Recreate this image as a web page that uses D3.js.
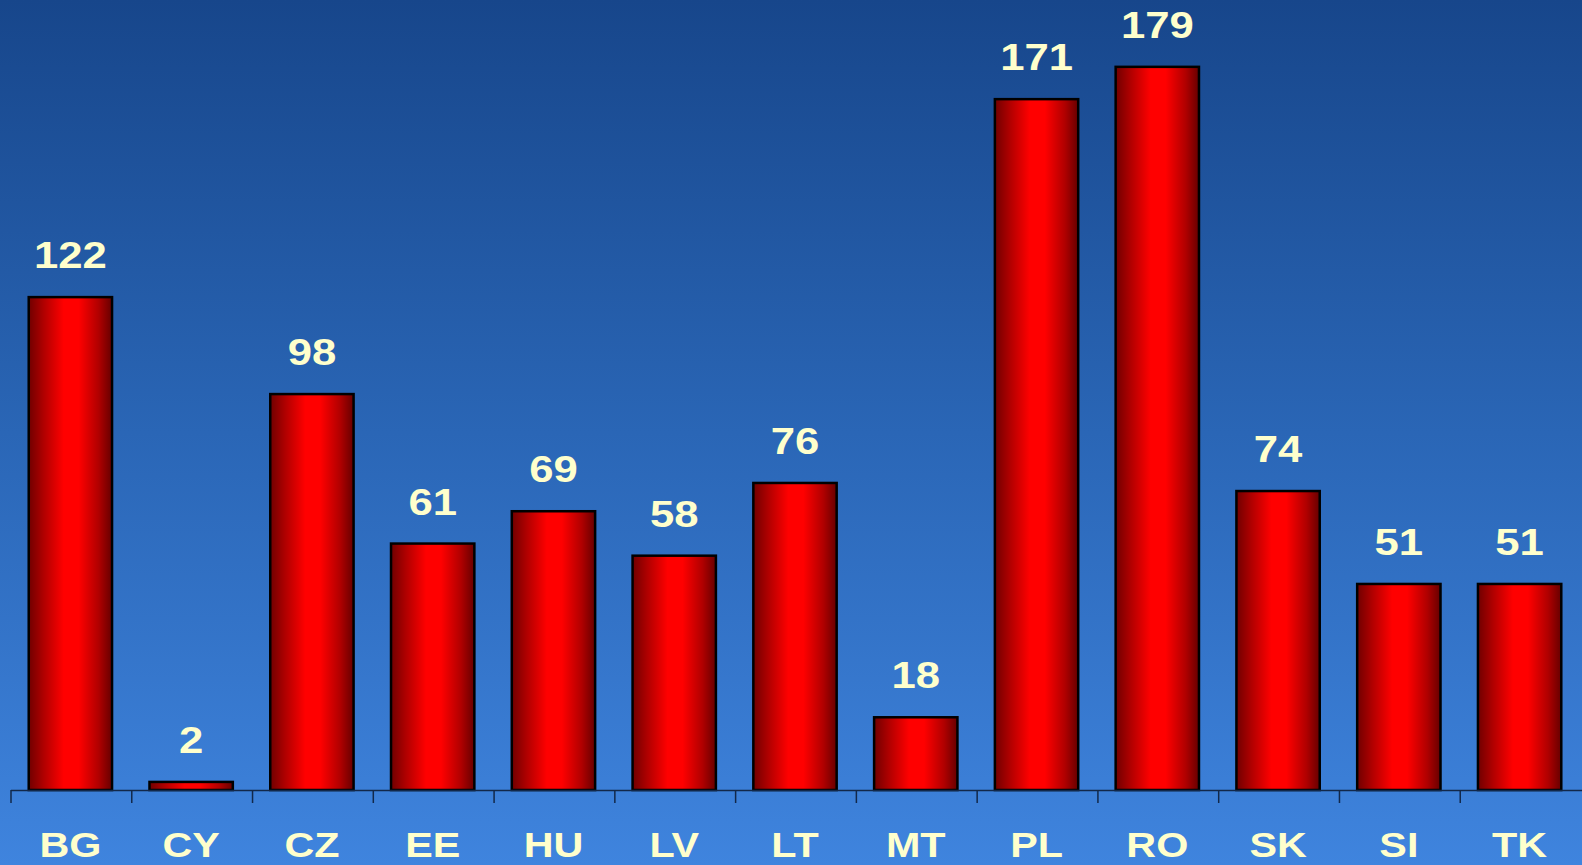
<!DOCTYPE html>
<html>
<head>
<meta charset="utf-8">
<script src="https://cdn.jsdelivr.net/npm/d3@7"></script>
<style>
  html, body { margin: 0; padding: 0; overflow: hidden; }
  svg { display: block; }
</style>
</head>
<body>
<div id="chart"></div>
<script>
// chart values
var countries = ["BG", "CY", "CZ", "EE", "HU", "LV", "LT", "MT", "PL", "RO", "SK", "SI", "TK"];
var values = [122, 2, 98, 61, 69, 58, 76, 18, 171, 179, 74, 51, 51];

var W = 1582, H = 865;
var baseY = 790;

var svg = d3.select("#chart")
  .append("svg")
  .attr("width", W)
  .attr("height", H);

var defs = svg.append("defs");

// background gradient, dark blue at top to lighter blue at bottom
var bg = defs.append("linearGradient")
  .attr("id", "bg")
  .attr("x1", 0).attr("y1", 0).attr("x2", 0).attr("y2", 1);
bg.append("stop").attr("offset", "0%").attr("stop-color", "#17468b");
bg.append("stop").attr("offset", "50%").attr("stop-color", "#2a66b6");
bg.append("stop").attr("offset", "100%").attr("stop-color", "#3f84de");

// red cylinder look for the bars
var barGrad = defs.append("linearGradient")
  .attr("id", "barGrad")
  .attr("x1", 0).attr("y1", 0).attr("x2", 1).attr("y2", 0);
barGrad.append("stop").attr("offset", "0%").attr("stop-color", "#700000");
barGrad.append("stop").attr("offset", "18%").attr("stop-color", "#b00000");
barGrad.append("stop").attr("offset", "42%").attr("stop-color", "#ff0000");
barGrad.append("stop").attr("offset", "60%").attr("stop-color", "#ff0000");
barGrad.append("stop").attr("offset", "84%").attr("stop-color", "#b00000");
barGrad.append("stop").attr("offset", "100%").attr("stop-color", "#660000");

svg.append("rect")
  .attr("width", W)
  .attr("height", H)
  .attr("fill", "url(#bg)");

// scales
var x = d3.scaleBand()
  .domain(countries)
  .range([11, 1581])
  .paddingInner(0.31)
  .paddingOuter(0.155);

var y = d3.scaleLinear()
  .domain([0, 200])
  .range([baseY, -18]);

// bars
svg.selectAll(".bar")
  .data(values)
  .enter()
  .append("rect")
  .attr("class", "bar")
  .attr("x", function (d, i) { return x(countries[i]) - 1; })
  .attr("y", function (d) { return y(d); })
  .attr("width", x.bandwidth())
  .attr("height", function (d) { return baseY - y(d); })
  .attr("fill", "url(#barGrad)")
  .attr("stroke", "#000")
  .attr("stroke-width", 2.5);

// value labels (text in the original looks stretched sideways)
svg.selectAll(".val")
  .data(values)
  .enter()
  .append("text")
  .attr("class", "val")
  .attr("transform", function (d, i) {
    var cx = x(countries[i]) - 1 + x.bandwidth() / 2;
    return "translate(" + cx + "," + (y(d) - 29) + ") scale(1.18,1)";
  })
  .attr("text-anchor", "middle")
  .attr("fill", "#ffffcc")
  .attr("font-family", "Liberation Sans, Arial, sans-serif")
  .attr("font-weight", "bold")
  .attr("font-size", "37px")
  .text(function (d) { return d; });

// axis line and ticks between categories
var step = x.step();
var bounds = countries.map(function (c) { return x(c) - step * x.paddingOuter(); });

svg.append("line")
  .attr("x1", bounds[0]).attr("x2", W)
  .attr("y1", baseY + 0.5).attr("y2", baseY + 0.5)
  .attr("stroke", "#12284a")
  .attr("stroke-width", 1.5);

svg.selectAll(".tick")
  .data(bounds)
  .enter()
  .append("line")
  .attr("class", "tick")
  .attr("x1", function (d) { return d; })
  .attr("x2", function (d) { return d; })
  .attr("y1", baseY)
  .attr("y2", baseY + 13)
  .attr("stroke", "#12284a")
  .attr("stroke-width", 1.5);

// category labels
svg.selectAll(".cat")
  .data(countries)
  .enter()
  .append("text")
  .attr("class", "cat")
  .attr("transform", function (d) {
    return "translate(" + (x(d) - 1 + x.bandwidth() / 2) + ",857) scale(1.18,1)";
  })
  .attr("text-anchor", "middle")
  .attr("fill", "#ffffcc")
  .attr("font-family", "Liberation Sans, Arial, sans-serif")
  .attr("font-weight", "bold")
  .attr("font-size", "35px")
  .text(function (d) { return d; });
</script>
</body>
</html>
